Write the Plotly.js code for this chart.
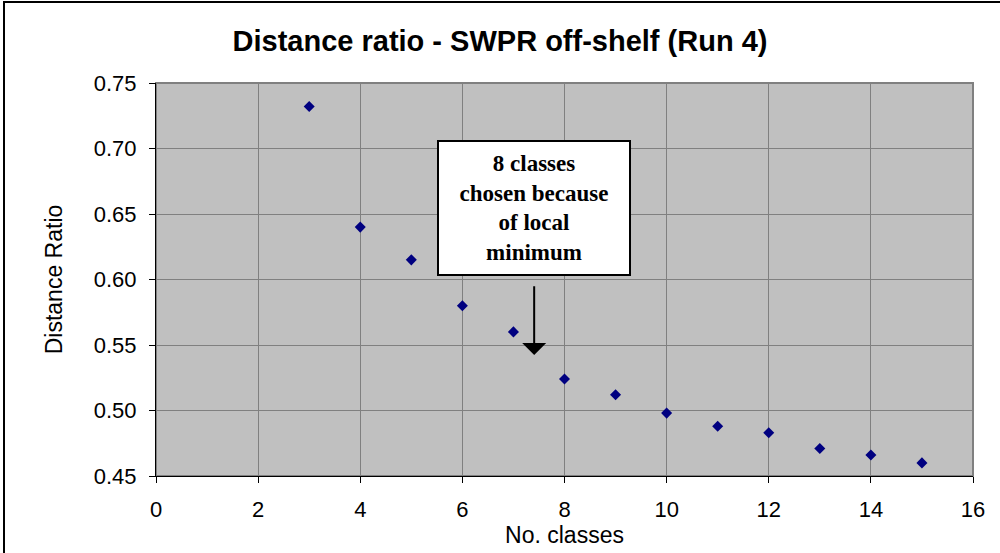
<!DOCTYPE html>
<html>
<head>
<meta charset="utf-8">
<script src="https://cdn.plot.ly/plotly-3.0.1.min.js"></script>
<style>
html,body{margin:0;padding:0;background:#fff;}
#chart{width:1000px;height:553px;}
</style>
</head>
<body>
<div id="chart"></div>
<script>
const noClasses = [3, 4, 5, 6, 7, 8, 9, 10, 11, 12, 13, 14, 15];
const distanceRatio = [0.732, 0.640, 0.615, 0.580, 0.560, 0.524, 0.512, 0.498, 0.488, 0.483, 0.471, 0.466, 0.460];
const chartTitle = "Distance ratio - SWPR off-shelf (Run 4)";
const xTitle = "No. classes";
const yTitle = "Distance Ratio";
const noteText = "8 classes<br>chosen because<br>of local<br>minimum";

const trace = {
  x: noClasses,
  y: distanceRatio,
  type: "scatter",
  mode: "markers",
  marker: {symbol: "diamond", size: 8.5, color: "#000080"},
  hoverinfo: "x+y"
};

const font = "Liberation Sans, Arial, sans-serif";

const layout = {
  width: 1000,
  height: 553,
  margin: {l: 156, r: 27, t: 83, b: 77},
  paper_bgcolor: "#ffffff",
  plot_bgcolor: "#c0c0c0",
  showlegend: false,
  title: {
    text: "<b>" + chartTitle + "</b>",
    font: {family: font, size: 29, color: "#000"},
    x: 0.5, xanchor: "center",
    y: 1 - 41/553, yanchor: "middle"
  },
  xaxis: {
    range: [0, 16],
    tickmode: "linear", tick0: 0, dtick: 2,
    showgrid: true, gridcolor: "#808080", gridwidth: 1,
    zeroline: false,
    showline: true, linecolor: "#000", linewidth: 1,
    ticks: "outside", ticklen: 6, tickcolor: "#000", tickwidth: 1,
    ticklabelstandoff: 8,
    tickfont: {family: font, size: 22, color: "#000"},
    title: {text: xTitle, font: {family: font, size: 23, color: "#000"}, standoff: 2}
  },
  yaxis: {
    range: [0.45, 0.75],
    tickmode: "linear", tick0: 0.45, dtick: 0.05,
    tickformat: ".2f",
    showgrid: true, gridcolor: "#808080", gridwidth: 1,
    zeroline: false,
    showline: true, linecolor: "#000", linewidth: 1,
    ticks: "outside", ticklen: 6, tickcolor: "#000", tickwidth: 1,
    ticklabelstandoff: 8,
    tickfont: {family: font, size: 22, color: "#000"},
    title: {text: yTitle, font: {family: font, size: 23, color: "#000"}, standoff: 24}
  },
  shapes: [
    {type: "rect", xref: "paper", yref: "paper", x0: 0, x1: 1, y0: 0, y1: 1,
     line: {color: "#808080", width: 2}, layer: "below"},
    {type: "rect", xref: "paper", yref: "paper",
     x0: (4 - 156) / 817, x1: 1.2, y0: -0.4, y1: (476 - 2) / 393,
     line: {color: "#000", width: 2}, fillcolor: "rgba(0,0,0,0)", layer: "above"}
  ],
  annotations: [
    {
      xref: "x", yref: "y", x: 7.40, y: 0.6544,
      text: "<b>" + noteText + "</b>",
      showarrow: false,
      font: {family: "Liberation Serif, Times New Roman, serif", size: 23, color: "#000"},
      align: "center",
      bgcolor: "#ffffff", bordercolor: "#000", borderwidth: 2, borderpad: 0,
      width: 190, height: 132, valign: "middle"
    },
    {
      xref: "x", yref: "y", axref: "x", ayref: "y",
      x: 7.406, y: 0.5424, ax: 7.406, ay: 0.5959,
      text: "", showarrow: true,
      arrowhead: 1, arrowsize: 2, arrowwidth: 2, arrowcolor: "#000", standoff: 0
    }
  ]
};

Plotly.newPlot("chart", [trace], layout, {displayModeBar: false, staticPlot: true});
</script>
</body>
</html>
